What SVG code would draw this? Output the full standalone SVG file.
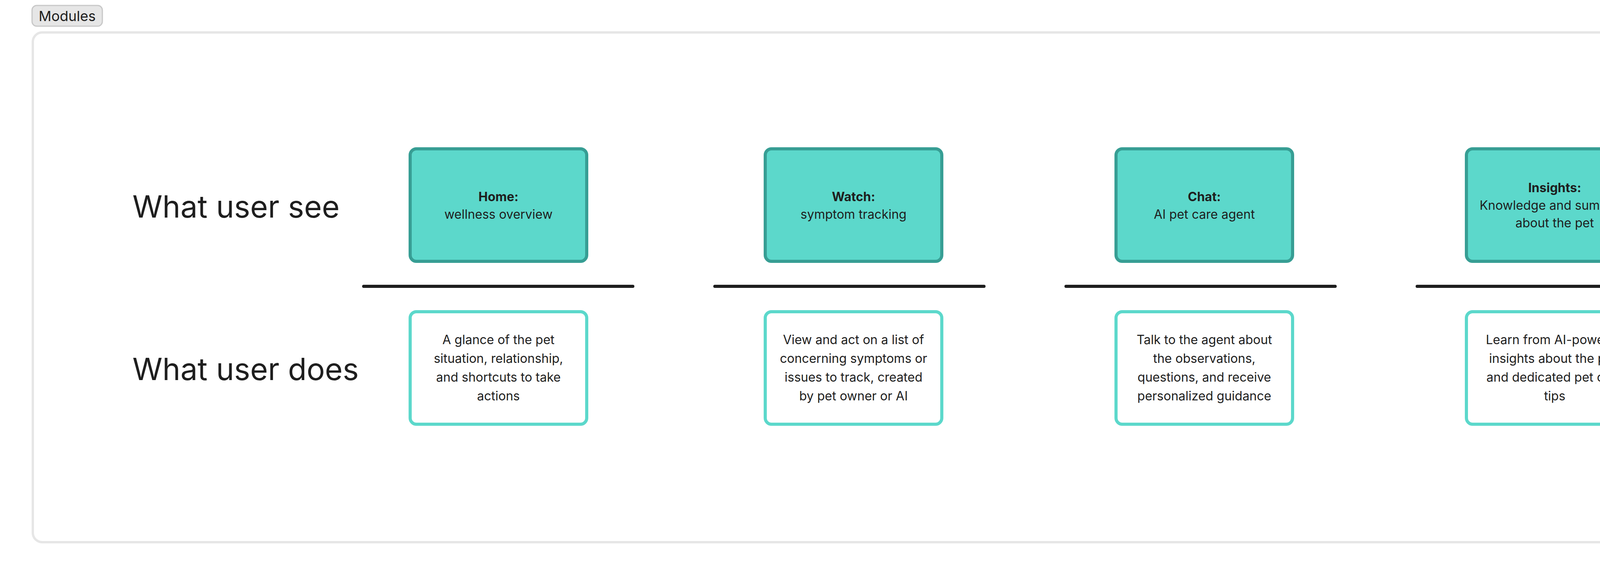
<svg xmlns="http://www.w3.org/2000/svg" width="5888" height="1472" viewBox="0 0 5888 1472">
<style>
.see{fill:#5cd8cb;stroke:#379e94;stroke-width:8}
.does{fill:#fff;stroke:#5cd8cb;stroke-width:8}
.t{font-family:Inter,"Liberation Sans",sans-serif;font-size:32px;fill:#1e1e1e;text-anchor:middle}
.b{font-weight:bold}
.big{font-family:Inter,"Liberation Sans",sans-serif;font-size:78px;fill:#1e1e1e}
.sep{stroke:#1e1e1e;stroke-width:8;stroke-linecap:round}
</style>
<rect width="5888" height="1472" fill="#fff"/>
<g id="container">
<rect x="84" y="83" width="5720" height="1305" rx="24" fill="#fff" stroke="#e6e6e6" stroke-width="6"/>
<rect x="82" y="14" width="180" height="53" rx="12" fill="#e6e6e6" stroke="#c8c8c8" stroke-width="3"/>
<text x="172" y="54" font-family="Inter,'Liberation Sans',sans-serif" font-size="36" fill="#1e1e1e" text-anchor="middle">Modules</text>
</g>
<g id="labels">
<text class="big" x="339" y="557">What user see</text>
<text class="big" x="339" y="973">What user does</text>
</g>
<g id="separators">
<line class="sep" x1="931" y1="733" x2="1620" y2="733"/>
<line class="sep" x1="1830" y1="733" x2="2519" y2="733"/>
<line class="sep" x1="2729" y1="733" x2="3418" y2="733"/>
<line class="sep" x1="3628" y1="733" x2="4317" y2="733"/>
<line class="sep" x1="4527" y1="733" x2="5216" y2="733"/>
</g>
<g id="home">
<rect class="see" x="1050" y="381" width="452" height="288" rx="16"/>
<text class="t b" x="1276" y="515">Home:</text>
<text class="t" x="1276" y="560">wellness overview</text>
<rect class="does" x="1050" y="798" width="452" height="288" rx="16"/>
<text class="t" x="1276" y="881">A glance of the pet</text>
<text class="t" x="1276" y="929">situation, relationship,</text>
<text class="t" x="1276" y="977">and shortcuts to take</text>
<text class="t" x="1276" y="1025">actions</text>
</g>
<g id="watch">
<rect class="see" x="1959" y="381" width="452" height="288" rx="16"/>
<text class="t b" x="2185" y="515">Watch:</text>
<text class="t" x="2185" y="560">symptom tracking</text>
<rect class="does" x="1959" y="798" width="452" height="288" rx="16"/>
<text class="t" x="2185" y="881">View and act on a list of</text>
<text class="t" x="2185" y="929">concerning symptoms or</text>
<text class="t" x="2185" y="977">issues to track, created</text>
<text class="t" x="2185" y="1025">by pet owner or AI</text>
</g>
<g id="chat">
<rect class="see" x="2857" y="381" width="452" height="288" rx="16"/>
<text class="t b" x="3083" y="515">Chat:</text>
<text class="t" x="3083" y="560">AI pet care agent</text>
<rect class="does" x="2857" y="798" width="452" height="288" rx="16"/>
<text class="t" x="3083" y="881">Talk to the agent about</text>
<text class="t" x="3083" y="929">the observations,</text>
<text class="t" x="3083" y="977">questions, and receive</text>
<text class="t" x="3083" y="1025">personalized guidance</text>
</g>
<g id="insights">
<rect class="see" x="3754" y="381" width="452" height="288" rx="16"/>
<text class="t b" x="3980" y="492">Insights:</text>
<text class="t" x="3980" y="537">Knowledge and summary</text>
<text class="t" x="3980" y="582">about the pet</text>
<rect class="does" x="3754" y="798" width="452" height="288" rx="16"/>
<text class="t" x="3980" y="881">Learn from AI-powered</text>
<text class="t" x="3980" y="929">insights about the pet,</text>
<text class="t" x="3980" y="977">and dedicated pet care</text>
<text class="t" x="3980" y="1025">tips</text>
</g>
<g id="profile">
<rect class="see" x="4652" y="381" width="452" height="288" rx="16"/>
<text class="t b" x="4878" y="515">Profile:</text>
<text class="t" x="4878" y="560">Pet management</text>
<rect class="does" x="4652" y="798" width="452" height="288" rx="16"/>
<text class="t" x="4878" y="931">View and update pet(s)</text>
<text class="t" x="4878" y="977">information and records</text>
</g>
</svg>
